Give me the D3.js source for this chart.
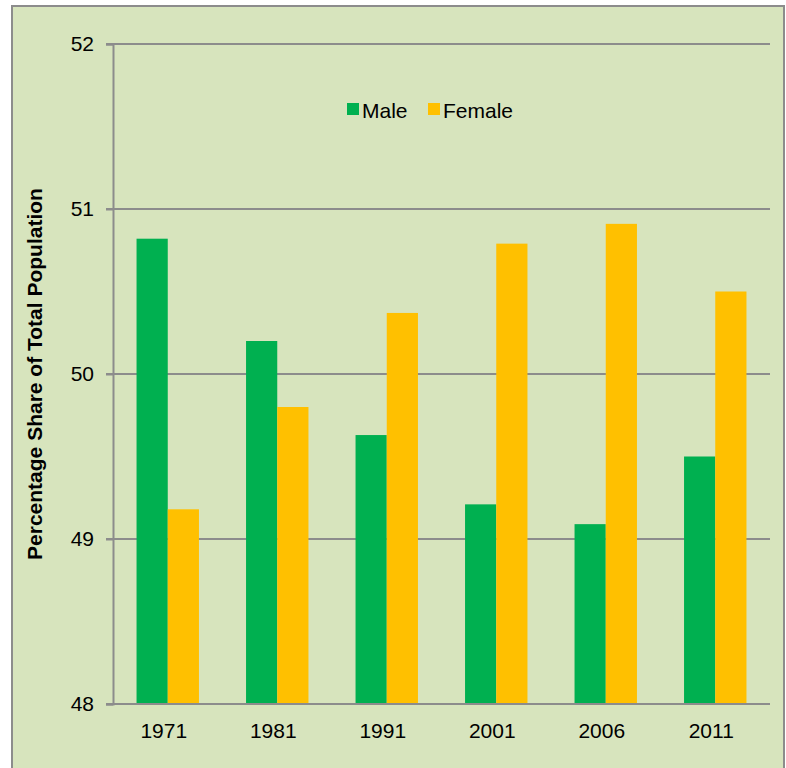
<!DOCTYPE html>
<html>
<meta charset="UTF-8">

<head>
  <script src="https://cdn.jsdelivr.net/npm/d3@7"></script>
  <style>
    body { margin: 0; background: #fff; }
    text { font-family: "Liberation Sans", Arial, sans-serif; }
  </style>
</head>

<body>
  <svg id="chart" width="786" height="768"></svg>

  <script type="text/javascript">
    const years = ["1971", "1981", "1991", "2001", "2006", "2011"]
    const male = [50.82, 50.2, 49.63, 49.21, 49.09, 49.5]
    const female = [49.18, 49.8, 50.37, 50.79, 50.91, 50.5]
    const yTicks = [48, 49, 50, 51, 52]
    const seriesNames = ["Male", "Female"]
    const seriesColors = ["#00b050", "#ffc000"]

    const svg = d3.select("#chart")

    // chart area background + border
    svg.append("rect")
      .attr("x", 12).attr("y", 6)
      .attr("width", 772).attr("height", 775)
      .style("fill", "#d7e4bd")
      .style("stroke", "#8c8c8c")
      .style("stroke-width", 2)

    const plot = { left: 113, right: 770, top: 44, bottom: 704 }

    const x = d3.scaleBand()
      .domain(years)
      .range([plot.left, plot.right])
      .paddingInner(0.43)
      .paddingOuter(0.215)

    const xs = d3.scaleBand()
      .domain(seriesNames)
      .range([0, x.bandwidth()])

    const y = d3.scaleLinear()
      .domain([48, 52])
      .range([plot.bottom, plot.top])

    // gridlines
    svg.append("g")
      .selectAll("line")
      .data(yTicks.filter(d => d > 48))
      .enter()
      .append("line")
      .attr("x1", plot.left - 7)
      .attr("x2", plot.right)
      .attr("y1", d => y(d))
      .attr("y2", d => y(d))
      .style("stroke", "#8c8c8c")
      .style("stroke-width", 2)

    const rows = years.map((yr, i) => [
      { year: yr, s: "Male", v: male[i], c: seriesColors[0] },
      { year: yr, s: "Female", v: female[i], c: seriesColors[1] }
    ]).flat()

    svg.append("g")
      .selectAll("rect")
      .data(rows)
      .enter()
      .append("rect")
      .attr("x", d => x(d.year) + xs(d.s))
      .attr("width", xs.bandwidth())
      .attr("y", d => y(d.v))
      .attr("height", d => y(48) - y(d.v))
      .style("fill", d => d.c)

    // y axis
    const yAxis = svg.append("g")
      .attr("transform", `translate(${plot.left},0)`)
      .call(d3.axisLeft(y).tickValues(yTicks).tickFormat(d3.format("d")).tickSize(7).tickPadding(12))
    yAxis.select(".domain").style("stroke", "#8c8c8c").style("stroke-width", 2)
    yAxis.selectAll(".tick line").style("stroke", "#8c8c8c").style("stroke-width", 2)
    yAxis.selectAll("text").style("font-size", "21px").style("fill", "#000")

    // x axis
    const xAxis = svg.append("g")
      .attr("transform", `translate(0,${plot.bottom})`)
      .call(d3.axisBottom(x).tickSize(0))
    xAxis.select(".domain").attr("d", `M${plot.left - 7},0H${plot.right}`)
      .style("stroke", "#8c8c8c").style("stroke-width", 2)
    xAxis.selectAll("text")
      .attr("x", -4).attr("y", 34).attr("dy", null)
      .style("font-size", "21px").style("fill", "#000")

    // axis title
    svg.append("text")
      .attr("transform", `translate(42,${(plot.top + plot.bottom) / 2}) rotate(-90)`)
      .style("text-anchor", "middle")
      .style("font-size", "21px")
      .style("font-weight", "bold")
      .text("Percentage Share of Total Population")

    // legend
    const legendX = [347, 428]
    const legend = svg.append("g")
      .selectAll("g")
      .data(seriesNames)
      .enter()
      .append("g")
      .attr("transform", (d, i) => `translate(${legendX[i]},103)`)
    legend.append("rect")
      .attr("width", 12).attr("height", 12)
      .style("fill", (d, i) => seriesColors[i])
    legend.append("text")
      .attr("x", 15).attr("y", 14.5)
      .style("font-size", "21px")
      .text(d => d)
  </script>
</body>

</html>
